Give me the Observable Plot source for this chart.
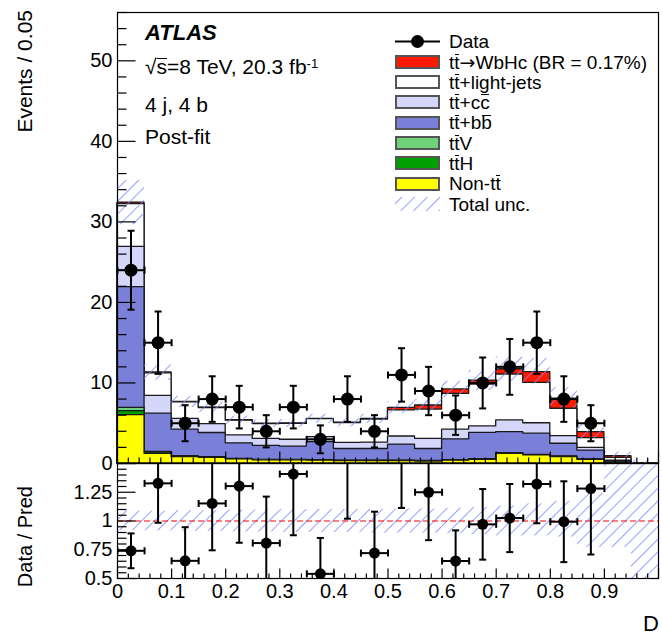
<!DOCTYPE html>
<html><head><meta charset="utf-8">
<script src="https://cdn.jsdelivr.net/npm/d3@7"></script>
<script src="https://cdn.jsdelivr.net/npm/@observablehq/plot@0.6"></script>
<style>
body{margin:0;background:#fff;}
#wrap{position:relative;width:662px;height:636px;overflow:hidden;font-family:"Liberation Sans",Arial,Helvetica,sans-serif;color:#000;background:#fff;}
#wrap svg{position:absolute;left:0;top:0;}
.abs{position:absolute;white-space:nowrap;line-height:1;}
.ol{position:relative;}
.ol::before{content:"";position:absolute;left:0.04em;right:0.02em;top:0.11em;border-top:1.4px solid currentColor;}
.sup{position:relative;top:-0.45em;font-size:0.62em;}
.arr{font-family:"DejaVu Sans",sans-serif;}
.lbox{position:absolute;box-sizing:border-box;border:2px solid #555;}
</style></head>
<body><div id="wrap"></div>
<script>
// ---------------- data ----------------
const edges = [0,0.05,0.1,0.15,0.2,0.25,0.3,0.35,0.4,0.45,0.5,0.55,0.6,0.65,0.7,0.75,0.8,0.85,0.9,0.95,1.0];
const dataCounts = [24,15,5,8,7,4,7,3,8,4,11,9,6,10,12,15,8,5,0,0];
const nonTT   = [6.0,1.2,0.8,0.7,0.5,0.4,0.4,0.35,0.3,0.3,0.3,0.25,0.35,0.45,1.2,1.0,0.8,0.45,0.1,0.02];
const ttH     = [0.5,0.15,0.06,0.05,0.04,0.03,0.03,0.03,0.03,0.03,0.03,0.03,0.04,0.05,0.05,0.05,0.04,0.03,0.01,0];
const ttV     = [0.4,0.1,0.04,0.04,0.03,0.03,0.03,0.03,0.03,0.03,0.03,0.03,0.03,0.03,0.03,0.03,0.03,0.02,0.01,0];
const ttbb    = [15.0,4.75,3.3,3.0,1.93,1.74,1.64,2.24,1.44,1.44,1.99,1.49,2.58,3.27,2.62,2.62,1.58,1.1,0.18,0.02];
const ttcc    = [5.0,2.2,1.35,1.1,1.0,0.85,0.85,0.62,0.77,0.8,1.0,1.27,1.2,0.8,1.45,1.3,0.95,0.35,0.05,0.01];
const ttlight = [5.3,2.8,2.05,2.0,1.82,1.85,1.97,2.23,2.45,2.85,3.25,3.63,4.45,5.2,5.7,5.0,3.4,1.2,0.35,0.0];
const signal  = [0.2,0.1,0.05,0.05,0.05,0.05,0.05,0.05,0.05,0.1,0.3,0.5,0.55,0.5,0.65,1.35,1.25,0.75,0.2,0.0];
// relative total uncertainty (low / high edge of band)
const uncLo = [0.915,0.915,0.91,0.91,0.905,0.905,0.9,0.9,0.9,0.895,0.895,0.895,0.89,0.88,0.87,0.87,0.86,0.77,0.77,0.0];
const uncHi = [1.085,1.085,1.09,1.09,1.095,1.095,1.1,1.1,1.1,1.1,1.105,1.105,1.11,1.12,1.13,1.15,1.17,1.24,1.6,8.0];
// axes
const mainYMajor = [0,10,20,30,40,50];
const mainYMinor = d3.range(0,57,2);
const ratioYMajor = [0.5,0.75,1,1.25,1.5];
const ratioYMinor = d3.range(0.5,1.501,0.05);
const ratioYLabels = ["0.5","0.75","1","1.25"];
const ratioYLabelValues = [0.5,0.75,1,1.25];
const xMajor = [0,0.1,0.2,0.3,0.4,0.5,0.6,0.7,0.8,0.9,1.0];
const xMinor = d3.range(0,1.001,0.02);
const xLabels = ["0","0.1","0.2","0.3","0.4","0.5","0.6","0.7","0.8","0.9"];

// ---------------- styles ----------------
const FONT = '"Liberation Sans",Arial,Helvetica,sans-serif';
const colors = {signal:"#ff1a00", light:"#ffffff", cc:"#d4d6fa", bb:"#7a7fd8", ttV:"#6fd17a", ttH:"#00a000", nonTT:"#ffff00"};
const hatchColor = "#7f86ff";
const W = 662, H = 636, xL = 117, xR = 658, mainTop = 12, mainBot = 463, ratioBot = 578;

// ---------------- helpers ----------------
function seg(x1,y1,x2,y2){ return {draw(ctx){ ctx.moveTo(x1,y1); ctx.lineTo(x2,y2); }}; }
const capH = seg(-3.5,0,3.5,0), capV = seg(0,-3.5,0,3.5);
function hatchDefs(id){
  return () => {
    const defs = d3.create("svg:defs");
    const p = defs.append("pattern").attr("id",id).attr("patternUnits","userSpaceOnUse")
      .attr("width",9).attr("height",9).attr("patternTransform","rotate(45)");
    p.append("line").attr("x1",0).attr("y1",-1).attr("x2",0).attr("y2",10)
      .attr("stroke",hatchColor).attr("stroke-width",1.6);
    return defs.node();
  };
}
function yTicks(major, minor, lenMaj, lenMin){
  const mset = new Set(major.map(v=>v.toFixed(3)));
  return [
    Plot.dot(minor.filter(v=>!mset.has(v.toFixed(3))), {x:0, y:d=>d, symbol: seg(0,0,lenMin,0), fill:"none", stroke:"black", strokeWidth:1.2}),
    Plot.dot(major, {x:0, y:d=>d, symbol: seg(0,0,lenMaj,0), fill:"none", stroke:"black", strokeWidth:1.2})
  ];
}
function xTicks(y0, lenMaj, lenMin){
  const mset = new Set(xMajor.map(v=>v.toFixed(3)));
  return [
    Plot.dot(xMinor.filter(v=>!mset.has(v.toFixed(3))), {x:d=>d, y:y0, symbol: seg(0,0,0,-lenMin), fill:"none", stroke:"black", strokeWidth:1.2}),
    Plot.dot(xMajor, {x:d=>d, y:y0, symbol: seg(0,0,0,-lenMaj), fill:"none", stroke:"black", strokeWidth:1.2})
  ];
}
function errorMarks(rows, yv, ylo, yhi, r, clip){
  const o = {stroke:"black", strokeWidth:2, clip};
  return [
    Plot.ruleY(rows, {y:yv, x1:"x1", x2:"x2", ...o}),
    Plot.ruleX(rows, {x:"c", y1:ylo, y2:yhi, ...o}),
    Plot.dot(rows, {x:"c", y:ylo, symbol:capH, fill:"none", ...o}),
    Plot.dot(rows, {x:"c", y:yhi, symbol:capH, fill:"none", ...o}),
    Plot.dot(rows, {x:"x1", y:yv, symbol:capV, fill:"none", ...o}),
    Plot.dot(rows, {x:"x2", y:yv, symbol:capV, fill:"none", ...o}),
    Plot.dot(rows, {x:"c", y:yv, r, fill:"black", stroke:"none", clip})
  ];
}

// ---------------- derived tables ----------------
const nb = dataCounts.length;
const bins = d3.range(nb).map(i => ({i, x1:edges[i], x2:edges[i+1], c:(edges[i]+edges[i+1])/2}));
const comps = [
  {vals:nonTT, fill:colors.nonTT}, {vals:ttH, fill:colors.ttH}, {vals:ttV, fill:colors.ttV},
  {vals:ttbb, fill:colors.bb}, {vals:ttcc, fill:colors.cc}, {vals:ttlight, fill:colors.light},
  {vals:signal, fill:colors.signal}
];
let cum = new Array(nb).fill(0);
const layers = comps.map(c => { cum = cum.map((v,i)=>v + c.vals[i]); return {fill:c.fill, top:cum.slice()}; });
const total = cum;
const stepRows = top => edges.map((e,k)=>({x:e, y: top[Math.min(k, nb-1)]}));
const pts = bins.map(b => ({...b, n:dataCounts[b.i], e:Math.sqrt(dataCounts[b.i]), tot:total[b.i]})).filter(d=>d.n>0);

// ---------------- main panel ----------------
const main = Plot.plot({
  width:W, height:H, marginLeft:xL, marginRight:W-xR, marginTop:mainTop, marginBottom:H-mainBot,
  x:{domain:[0,1], axis:null}, y:{domain:[0,56], axis:null},
  style:{background:"transparent", overflow:"visible", fontFamily:FONT},
  marks:[
    hatchDefs("hatchMain"),
    ...layers.slice().reverse().map(L => Plot.areaY(stepRows(L.top), {x:"x", y:"y", curve:"step-after", fill:L.fill, stroke:"#1a1a1a", strokeWidth:1.3})),
    Plot.rect(bins, {x1:"x1", x2:"x2", y1:d=>total[d.i]*uncLo[d.i], y2:d=>total[d.i]*uncHi[d.i], fill:"url(#hatchMain)"}),
    ...errorMarks(pts, "n", d=>d.n-d.e, d=>d.n+d.e, 6.5, false),
    ...yTicks(mainYMajor, mainYMinor, 18, 9),
    ...xTicks(0, 12, 6),
    Plot.text(mainYMajor, {x:0, y:d=>d, text:d=>String(d), dx:-5, textAnchor:"end", lineAnchor:"middle", fontSize:20}),
    Plot.frame({stroke:"black", strokeWidth:1.2})
  ]
});

// ---------------- ratio panel ----------------
const ratio = Plot.plot({
  width:W, height:H, marginLeft:xL, marginRight:W-xR, marginTop:mainBot, marginBottom:H-ratioBot,
  x:{domain:[0,1], axis:null}, y:{domain:[0.5,1.5], axis:null},
  style:{background:"transparent", overflow:"visible", fontFamily:FONT},
  marks:[
    hatchDefs("hatchRatio"),
    Plot.rect(bins, {x1:"x1", x2:"x2", y1:d=>uncLo[d.i], y2:d=>uncHi[d.i], fill:"url(#hatchRatio)", clip:true}),
    Plot.ruleY([1], {stroke:"#ff0000", strokeWidth:1.2, strokeDasharray:"6,3"}),
    ...errorMarks(pts, d=>d.n/d.tot, d=>(d.n-d.e)/d.tot, d=>(d.n+d.e)/d.tot, 5.5, true),
    ...yTicks(ratioYMajor, ratioYMinor, 18, 9),
    ...xTicks(0.5, 10, 5),
    Plot.text(ratioYLabelValues, {x:0, y:d=>d, text:(d,i)=>ratioYLabels[i], dx:-5, textAnchor:"end", lineAnchor:"middle", fontSize:20}),
    Plot.text(xLabels, {x:d=>+d, y:0.5, text:d=>d, dy:5, textAnchor:"middle", lineAnchor:"top", fontSize:20}),
    Plot.frame({stroke:"black", strokeWidth:1.2})
  ]
});

const wrap = document.getElementById("wrap");
wrap.appendChild(main);
wrap.appendChild(ratio);

// ---------------- axis titles ----------------
const ov = d3.create("svg").attr("width",W).attr("height",H).style("overflow","visible").style("font-family",FONT);
ov.append("text").attr("transform","translate(32,10) rotate(-90)").attr("text-anchor","end").attr("font-size",21).text("Events / 0.05");
ov.append("text").attr("transform","translate(32,486) rotate(-90)").attr("text-anchor","end").attr("font-size",20).text("Data / Pred");
ov.append("text").attr("x",659).attr("y",631).attr("text-anchor","end").attr("font-size",22).text("D");
wrap.appendChild(ov.node());

// ---------------- annotations ----------------
function addText(html, x, baseline, fs, extra){
  const d = document.createElement("div");
  d.className = "abs";
  d.style.left = x + "px";
  d.style.top = (baseline - 0.8465*fs) + "px";
  d.style.fontSize = fs + "px";
  if (extra) Object.assign(d.style, extra);
  d.innerHTML = html;
  wrap.appendChild(d);
}
addText("ATLAS", 145, 41, 22, {fontWeight:"bold", fontStyle:"italic"});
addText('√<span class="ol">s</span>=8 TeV, 20.3 fb<span class="sup">-1</span>', 145, 74, 21);
addText("4 j, 4 b", 145, 112, 21);
addText("Post-fit", 145, 144, 21);

// legend
const legendEntries = [
  {kind:"data", label:"Data"},
  {kind:"box", fill:colors.signal, label:'t<span class="ol">t</span><span class="arr">→</span>WbHc (BR = 0.17%)'},
  {kind:"box", fill:colors.light, label:'t<span class="ol">t</span>+light-jets'},
  {kind:"box", fill:colors.cc, label:'t<span class="ol">t</span>+c<span class="ol">c</span>'},
  {kind:"box", fill:colors.bb, label:'t<span class="ol">t</span>+b<span class="ol">b</span>'},
  {kind:"box", fill:colors.ttV, label:'t<span class="ol">t</span>V'},
  {kind:"box", fill:colors.ttH, label:'t<span class="ol">t</span>H'},
  {kind:"box", fill:colors.nonTT, label:'Non-t<span class="ol">t</span>'},
  {kind:"hatch", label:"Total unc."}
];
const lgX = 395, lgW = 45, lgTxt = 449, lgY0 = 41.5, lgDy = 20.3, lgFs = 19;
legendEntries.forEach((e,i) => {
  const cy = lgY0 + i*lgDy;
  if (e.kind === "data") {
    const s = d3.create("svg").attr("width",W).attr("height",H).style("overflow","visible");
    s.append("line").attr("x1",lgX).attr("x2",lgX+lgW).attr("y1",cy).attr("y2",cy).attr("stroke","black").attr("stroke-width",2);
    s.append("circle").attr("cx",lgX+lgW/2).attr("cy",cy).attr("r",6.5).attr("fill","black");
    wrap.appendChild(s.node());
  } else if (e.kind === "box") {
    const b = document.createElement("div");
    b.className = "lbox";
    Object.assign(b.style, {left:lgX+"px", top:(cy-7)+"px", width:lgW+"px", height:"14px", background:e.fill});
    wrap.appendChild(b);
  } else {
    const s = d3.create("svg").attr("width",W).attr("height",H).style("overflow","visible");
    const defs = s.append("defs");
    const p = defs.append("pattern").attr("id","hatchLeg").attr("patternUnits","userSpaceOnUse")
      .attr("width",9).attr("height",9).attr("patternTransform","rotate(45)");
    p.append("line").attr("x1",0).attr("y1",-1).attr("x2",0).attr("y2",10).attr("stroke",hatchColor).attr("stroke-width",1.6);
    s.append("rect").attr("x",lgX).attr("y",cy-7).attr("width",lgW).attr("height",14).attr("fill","url(#hatchLeg)");
    wrap.appendChild(s.node());
  }
  addText(e.label, lgTxt, cy + 0.36*lgFs, lgFs);
});
</script>
</body></html>
